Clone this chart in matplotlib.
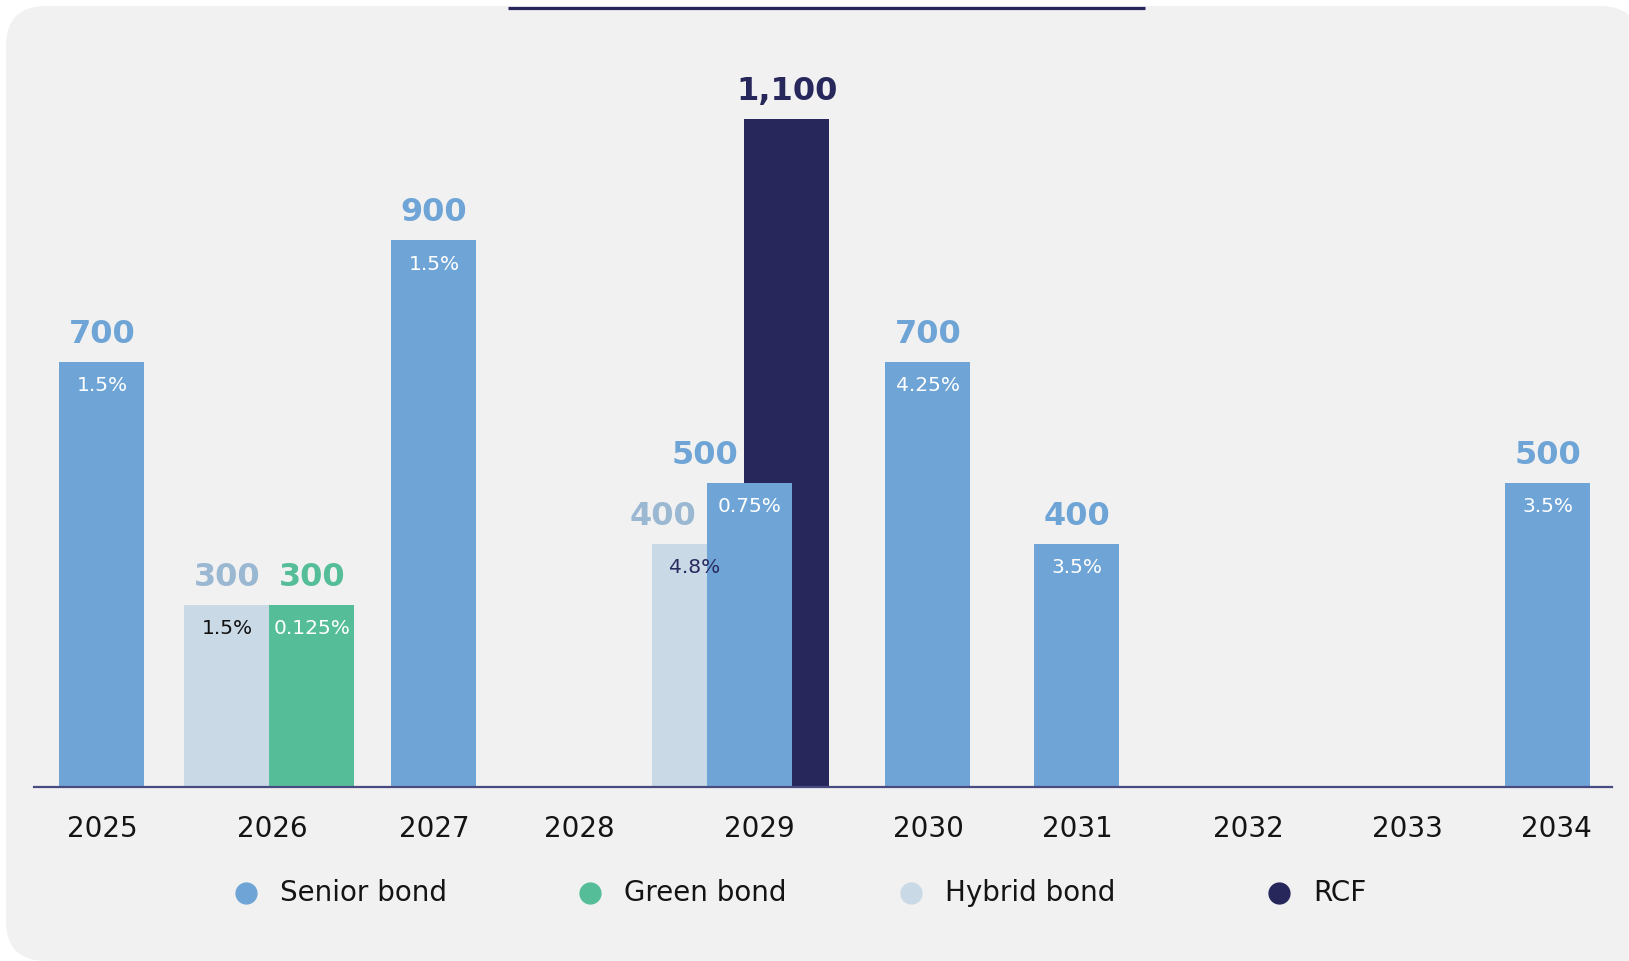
import matplotlib.pyplot as plt
from matplotlib.patches import FancyBboxPatch, Rectangle

# debt maturity profile (EUR m) and coupons
years = ["2025", "2026", "2027", "2028", "2029", "2030", "2031", "2032", "2033", "2034"]
senior = [700, 0, 900, 0, 500, 700, 400, 0, 0, 500]
green = [0, 300, 0, 0, 0, 0, 0, 0, 0, 0]
hybrid = [0, 300, 0, 0, 400, 0, 0, 0, 0, 0]
rcf = [0, 0, 0, 0, 1100, 0, 0, 0, 0, 0]
senior_rate = ["1.5%", "", "1.5%", "", "0.75%", "4.25%", "3.5%", "", "", "3.5%"]
green_rate = ["", "0.125%", "", "", "", "", "", "", "", ""]
hybrid_rate = ["", "1.5%", "", "", "4.8%", "", "", "", "", ""]
legend_names = ["Senior bond", "Green bond", "Hybrid bond", "RCF"]

# colours
C_SENIOR = "#6fa5d6"
C_GREEN = "#55be98"
C_HYBRID = "#c9d9e6"
C_RCF = "#27275b"
C_HYBRID_TXT = "#9bb8d3"
C_PANEL = "#f1f1f1"

# layout (pixels)
W, H = 1629, 961
BASE = 787          # baseline y from top
PX_PER_UNIT = 668 / 1100
BAR_W = 85
tick_x = [102, 272, 434, 579, 759, 928, 1077, 1248, 1407, 1556]
# bar offsets from the year tick, per series
offsets = {
    "senior": {"2029": -9, "2034": -8},
    "green": {"2026": 40},
    "hybrid": {"2026": -45, "2029": -64},
    "rcf": {"2029": 28},
}
label_dx = {("senior", "2029"): -45, ("hybrid", "2029"): -32}

fig = plt.figure(figsize=(W / 100, H / 100), dpi=100)
fig.patch.set_facecolor("white")

# background panel + top rule, in pixel coords
bg = fig.add_axes([0, 0, 1, 1])
bg.set_xlim(0, W)
bg.set_ylim(H, 0)
bg.axis("off")
bg.add_patch(FancyBboxPatch((6, 6), 1634, 955, boxstyle="round,pad=0,rounding_size=40",
                            facecolor=C_PANEL, edgecolor="none"))
bg.add_patch(Rectangle((900, 500), 740, 470, facecolor=C_PANEL, edgecolor="none"))
bg.plot([508, 1145], [7.5, 7.5], color=C_RCF, lw=2.3, solid_capstyle="butt")

# chart axes: bottom edge is the baseline
ax = fig.add_axes([0, 1 - BASE / H, 1, BASE / H])
ax.set_xlim(0, W)
ax.set_ylim(0, BASE / PX_PER_UNIT)
ax.patch.set_alpha(0)
for s in ["top", "left", "right"]:
    ax.spines[s].set_visible(False)
ax.spines["bottom"].set_bounds(34, 1612)
ax.spines["bottom"].set_color("#474b80")
ax.spines["bottom"].set_linewidth(1.6)
ax.spines["bottom"].set_zorder(5)
ax.set_yticks([])
ax.set_xticks(tick_x)
ax.set_xticklabels(years, fontsize=20, color="#141414")
ax.tick_params(axis="x", length=0, pad=20)


def draw(series, values, color, rates, rate_colors, val_color):
    for i, (yr, v) in enumerate(zip(years, values)):
        if v == 0:
            continue
        x = tick_x[i] + offsets[series].get(yr, 0)
        ax.bar(x, v, width=BAR_W, color=color, zorder=2)
        lx = x + label_dx.get((series, yr), 0)
        ax.annotate(f"{v:,}", (lx, v), xytext=(0, 20), textcoords="offset points",
                    ha="center", va="center", fontsize=23, fontweight="bold", color=val_color)
        if rates and rates[i]:
            ax.annotate(rates[i], (x, v), xytext=(0, -17), textcoords="offset points",
                        ha="center", va="center", fontsize=14.5, color=rate_colors[i], zorder=4)


hybrid_rate_col = ["#111111", "#111111", "", "", "#2b2b60", "", "", "", "", ""]
draw("hybrid", hybrid, C_HYBRID, hybrid_rate, hybrid_rate_col, C_HYBRID_TXT)
draw("green", green, C_GREEN, green_rate, ["white"] * 10, C_GREEN)
draw("rcf", rcf, C_RCF, None, None, C_RCF)
draw("senior", senior, C_SENIOR, senior_rate, ["white"] * 10, C_SENIOR)

# legend drawn by hand to match spacing
legend_cols = [C_SENIOR, C_GREEN, C_HYBRID, C_RCF]
legend_marker_x = [246, 590, 911, 1279]
for name, col, mx in zip(legend_names, legend_cols, legend_marker_x):
    bg.plot(mx, 893, "o", markersize=15, color=col)
    bg.text(mx + 34, 893, name, fontsize=20, va="center", ha="left", color="#141414")

fig.savefig("out.png", dpi=100)
